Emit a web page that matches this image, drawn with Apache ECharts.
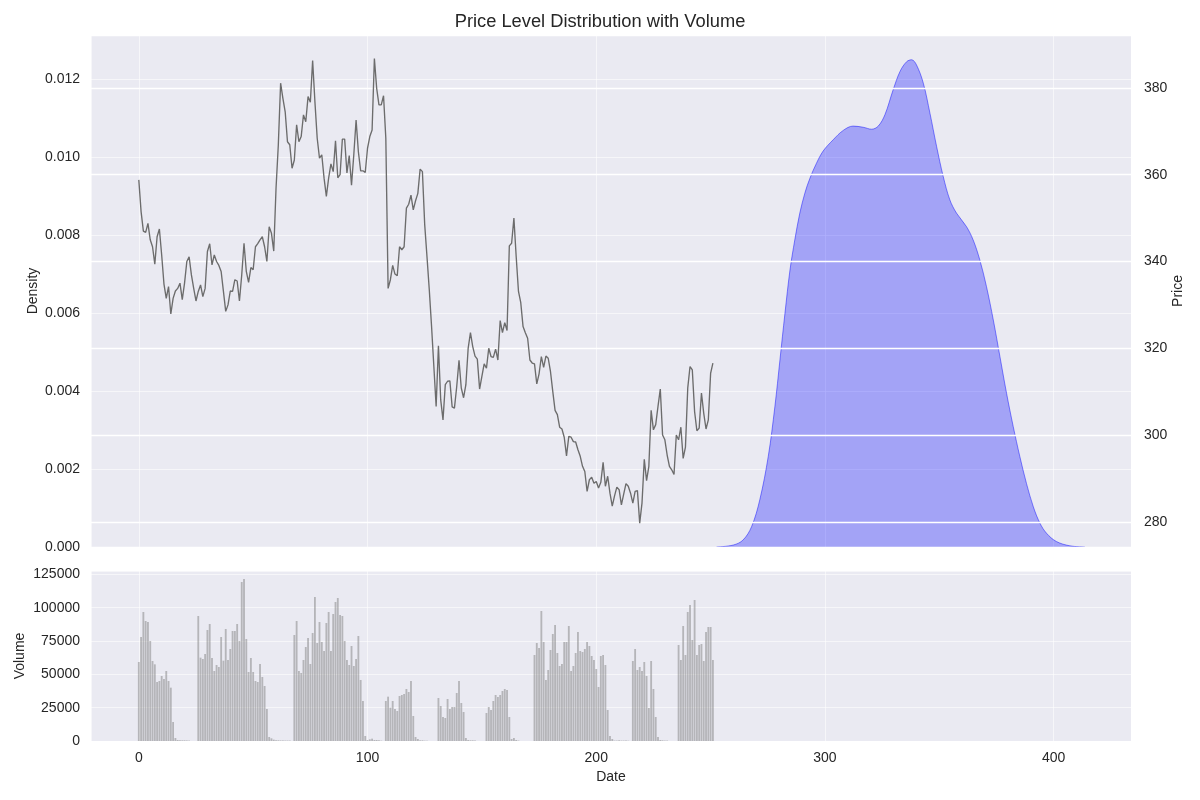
<!DOCTYPE html>
<html>
<head>
<meta charset="utf-8">
<script src="https://cdn.jsdelivr.net/npm/echarts@6/dist/echarts.min.js"></script>
<style>
html,body{margin:0;padding:0;background:#fff;}
#chart{width:1200px;height:800px;}
</style>
</head>
<body>
<div id="chart"></div>
<script>
// ---- data ----
const title = 'Price Level Distribution with Volume';
const priceValues = [
358.8,351.5,347.0,346.7,348.8,345.0,343.4,339.4,345.7,347.5,
341.5,334.8,331.5,334.2,327.9,331.5,333.2,333.8,335.0,331.2,
335.0,340.0,341.1,336.9,333.8,330.9,333.1,334.6,331.9,333.8,
342.3,344.1,339.2,341.5,340.0,339.1,337.7,333.1,328.5,330.0,
333.2,333.1,335.8,335.5,330.9,336.9,344.2,337.7,335.2,338.6,
338.1,343.4,344.1,345.0,345.7,343.4,340.0,348.0,346.5,342.4,
356.9,366.9,381.1,377.6,374.5,367.6,366.9,361.5,363.4,371.5,
367.6,368.8,373.8,372.2,378.0,376.7,386.3,376.8,368.4,363.8,
364.6,359.2,355.0,359.2,362.5,360.7,367.8,359.3,360.0,368.2,
368.2,360.4,364.4,357.6,364.6,372.6,365.3,360.9,360.9,360.5,
366.1,368.8,370.3,386.8,379.9,376.1,376.1,378.2,368.4,333.8,
335.8,339.1,337.1,336.7,343.4,342.7,343.4,352.3,353.2,355.3,
351.9,354.0,355.7,361.3,360.7,348.5,341.1,333.5,325.0,315.8,
306.6,320.6,308.1,303.5,311.6,312.4,312.5,306.5,306.2,311.2,
317.2,310.8,308.6,311.6,320.0,323.6,320.4,318.2,317.5,310.6,
313.5,316.4,315.4,320.0,318.1,317.9,319.8,317.3,326.4,323.6,
325.9,324.1,343.6,344.2,350.0,341.1,333.1,330.5,325.0,323.6,
322.3,317.3,316.6,316.4,311.8,314.1,318.1,315.6,318.2,317.7,
314.6,310.0,305.7,304.7,301.8,301.4,299.5,295.2,299.7,299.5,
298.5,298.4,296.6,295.1,292.8,291.6,287.0,289.7,290.3,288.9,
289.3,287.8,289.1,293.7,288.2,290.5,286.6,283.6,286.0,288.0,
287.4,283.9,286.4,288.8,288.2,286.6,284.3,287.0,287.2,279.7,
284.3,294.4,289.5,292.8,305.7,301.2,302.4,306.6,310.6,300.0,
298.9,295.4,292.8,292.0,290.9,300.0,298.9,301.8,294.6,297.2,
310.8,315.8,315.0,305.4,301.0,301.6,309.7,305.0,301.4,303.5,
314.2,316.6
];
const volumeValues = [
59250,78000,96750,90000,89250,75000,60000,57500,44250,45000,
48750,46500,52500,45000,40000,14250,2250,750,500,500,
500,400,300,0,0,0,93750,62500,61500,65250,
83250,87750,62250,52500,57000,55500,78000,60250,84000,60750,
69000,82500,82500,87750,75000,119250,121500,76500,51750,62250,
51750,45000,44250,57750,48000,41250,24000,3000,2000,1000,
500,500,400,400,300,300,300,0,79500,90000,
52500,51000,60750,70500,77250,57750,81000,108000,73500,89250,
74250,67500,88500,96750,67500,95250,104250,107250,94500,93750,
75000,60750,57000,71250,56250,61500,78750,45750,30000,3750,
750,1250,1750,750,750,500,250,0,30000,33250,
25000,30000,24000,22500,33750,34500,35250,39000,36750,45000,
18750,3000,1500,500,500,250,250,0,0,0,
0,32250,26250,18000,17250,31500,24000,25500,25500,36000,
45000,28500,21750,2250,750,500,500,300,0,0,
0,0,21000,25500,23250,30000,34500,33000,34500,37500,
39000,38250,18000,1500,2250,750,300,0,0,0,
0,0,0,64500,73500,69750,97500,74250,45750,53250,
68250,80250,87000,66000,56250,57750,74250,74250,86250,52500,
56250,66000,81750,67500,66750,69000,74250,71250,63750,60750,
54000,40500,63750,64500,57000,23250,3750,1500,300,300,
500,300,300,300,200,0,60000,69000,53250,55500,
52500,59250,48750,24750,60000,39000,18000,3000,750,500,
300,300,0,0,0,0,72000,60750,86250,64500,
96750,102000,75750,105750,64500,72000,72750,60000,81750,85500,
85500,60750
];
// KDE curve (x position on the date axis, density)
const kdeX = [252.6,259.9,264.2,267.9,271.5,275.2,278.1,280.3,282.5,284.7,
286.8,289.0,291.2,293.4,296.3,299.2,303.6,308.0,312.3,316.7,
320.4,323.3,326.2,329.8,332.8,335.7,337.9,340.0,343.0,345.9,
348.8,351.7,354.6,357.5,361.9,364.8,367.7,370.6,373.6,376.5,
379.4,382.3,385.2,388.1,391.1,394.0,396.9,401.2,407.1,413.6];
const kdeDensity = [0.00000,0.00005,0.00018,0.00052,0.00121,0.00232,0.00360,0.00479,0.00599,0.00710,
0.00787,0.00856,0.00907,0.00945,0.00984,0.01015,0.01044,0.01068,0.01079,0.01076,
0.01071,0.01079,0.01108,0.01172,0.01219,0.01244,0.01249,0.01236,0.01189,0.01112,
0.01027,0.00950,0.00890,0.00856,0.00821,0.00787,0.00736,0.00668,0.00582,0.00488,
0.00394,0.00309,0.00232,0.00163,0.00103,0.00061,0.00035,0.00014,0.00003,0.00000];
const xTicks = [0,100,200,300,400];

// ---- build ----
const txt = '#262626';
const font = 'Liberation Sans, Arial, sans-serif';
const bg = '#EAEAF2';
const pricePts = priceValues.map((v,i)=>[i,v]);
const volPts = volumeValues.map((v,i)=>[i,v]);
const kdePts = kdeX.map((x,i)=>[x,kdeDensity[i]]);
const xMin = -20.9, xMax = 433.8;
const barHalf = 0.4;
const xFmt = v => (xTicks.indexOf(Math.round(v))>=0 && Math.abs(v-Math.round(v))<1e-6) ? String(Math.round(v)) : '';
const faint = 'rgba(255,255,255,0.55)';
const nameStyle = {fontSize:14,color:txt,fontFamily:font};

const chart = echarts.init(document.getElementById('chart'), null, {renderer:'canvas'});
chart.setOption({
  animation:false,
  backgroundColor:'#ffffff',
  textStyle:{fontFamily:font,color:txt},
  title:{text:title,left:'center',top:8,textStyle:{fontFamily:font,fontSize:18.3,fontWeight:'normal',color:txt}},
  grid:[
    {left:91,top:35,width:1040,height:512,backgroundColor:bg,show:true,borderWidth:0},
    {left:91,top:571,width:1040,height:170,backgroundColor:bg,show:true,borderWidth:0}
  ],
  xAxis:[
    {type:'value',gridIndex:0,min:xMin,max:xMax,splitNumber:5,
     axisLine:{show:false},axisTick:{show:false},axisLabel:{show:false},
     splitLine:{show:true,lineStyle:{color:faint,width:1}}},
    {type:'value',gridIndex:1,min:xMin,max:xMax,splitNumber:5,
     name:'Date',nameLocation:'middle',nameGap:29,nameMoveOverlap:false,nameTextStyle:nameStyle,
     axisLine:{show:false},axisTick:{show:false},
     axisLabel:{formatter:xFmt,fontSize:14,color:txt,margin:10,showMinLabel:false,showMaxLabel:false},
     splitLine:{show:true,lineStyle:{color:faint,width:1}}}
  ],
  yAxis:[
    {type:'value',gridIndex:0,min:0,max:0.013125,interval:0.002,position:'left',z:0,
     name:'Density',nameLocation:'middle',nameGap:51,nameMoveOverlap:false,nameTextStyle:nameStyle,
     axisLine:{show:false},axisTick:{show:false},
     axisLabel:{fontSize:14,color:txt,margin:11,showMaxLabel:false,formatter:v=>v.toFixed(3)},
     splitLine:{show:true,lineStyle:{color:faint,width:1}}},
    {type:'value',gridIndex:0,min:274.2,max:392.2,splitNumber:6,position:'right',z:3,
     name:'Price',nameLocation:'middle',nameGap:40,nameMoveOverlap:false,nameTextStyle:nameStyle,
     axisLine:{show:false},axisTick:{show:false},
     axisLabel:{fontSize:14,color:txt,margin:13,formatter:v=>(Math.abs(v/20-Math.round(v/20))<1e-6?String(Math.round(v)):'')},
     splitLine:{show:true,lineStyle:{color:'#ffffff',width:1.4}}},
    {type:'value',gridIndex:1,min:0,max:127500,interval:25000,
     name:'Volume',nameLocation:'middle',nameGap:64,nameMoveOverlap:false,nameTextStyle:nameStyle,
     axisLine:{show:false},axisTick:{show:false},
     axisLabel:{fontSize:14,color:txt,margin:11,showMaxLabel:false,formatter:v=>String(v)},
     splitLine:{show:true,lineStyle:{color:faint,width:1}}}
  ],
  series:[
    {type:'line',name:'kde',xAxisIndex:0,yAxisIndex:0,data:kdePts,smooth:0.35,showSymbol:false,z:2,
     lineStyle:{color:'rgba(0,0,255,0.45)',width:1},areaStyle:{color:'rgba(0,0,255,0.3)',opacity:1,origin:'start'}},
    {type:'line',name:'price',xAxisIndex:0,yAxisIndex:1,data:pricePts,showSymbol:false,z:4,
     lineStyle:{color:'#6c6c6c',width:1.35}},
    {type:'custom',name:'volume',xAxisIndex:1,yAxisIndex:2,data:volPts,z:2,
     renderItem:(params,api)=>{
       const x = api.value(0), v = api.value(1);
       const p0 = api.coord([x-barHalf, v]);
       const p1 = api.coord([x+barHalf, 0]);
       return {type:'rect',shape:{x:p0[0],y:p0[1],width:p1[0]-p0[0],height:p1[1]-p0[1]},
               style:{fill:'rgba(128,128,128,0.5)'}};
     }}
  ]
});
</script>
</body>
</html>
